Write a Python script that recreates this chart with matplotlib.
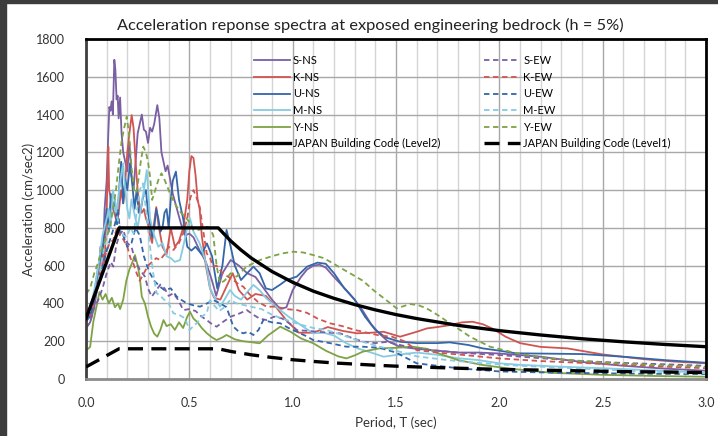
import matplotlib
matplotlib.use("Agg")
import matplotlib.pyplot as plt
from matplotlib.patches import Rectangle
from matplotlib.ticker import MultipleLocator

plt.rcParams['font.family'] = ['Lato', 'DejaVu Sans']

# ---- data (period T in sec, acceleration in cm/sec2) ----
t_s_ns = [0, 0.02, 0.04, 0.06, 0.07, 0.08, 0.09, 0.10, 0.108, 0.113, 0.118, 0.124, 0.13, 0.137, 0.142, 0.148,
          0.153, 0.158, 0.165, 0.172, 0.18, 0.19, 0.2, 0.21, 0.22, 0.23, 0.24, 0.25, 0.26, 0.27, 0.28, 0.29,
          0.30, 0.31, 0.32, 0.33, 0.345, 0.355, 0.365, 0.375, 0.385, 0.395, 0.41, 0.42, 0.44, 0.46, 0.48, 0.5,
          0.52, 0.55, 0.58, 0.61, 0.63, 0.66, 0.7, 0.74, 0.78, 0.82, 0.86, 0.9, 0.94, 0.97, 1.0, 1.04, 1.07,
          1.1, 1.13, 1.16, 1.2, 1.26, 1.3, 1.34, 1.38, 1.42, 1.46, 1.52, 1.6, 1.7, 1.8, 1.9, 2.0, 2.2, 2.4,
          2.6, 2.8, 3.0]
a_s_ns = [270, 300, 380, 520, 700, 600, 900, 1050, 1300, 1440, 1420, 1470, 1400, 1690, 1640, 1480,
          1500, 1380, 1490, 1300, 1200, 1150, 1100, 1250, 1080, 1000, 1150, 1300, 1350, 1400, 1320, 1310,
          1250, 1330, 1310, 1350, 1450, 1380, 1200, 1150, 1100, 1130, 1040, 980, 900, 820, 760, 770,
          750, 680, 620, 520, 440, 560, 630, 600, 560, 540, 480, 420, 370, 380, 470, 540, 580,
          600, 605, 590, 540, 470, 420, 360, 290, 240, 200, 170, 160, 150, 140, 140, 135, 118, 90,
          70, 55, 44]

t_k_ns = [0, 0.02, 0.04, 0.06, 0.08, 0.09, 0.1, 0.105, 0.108, 0.112, 0.116, 0.12, 0.13, 0.14, 0.15, 0.16,
          0.17, 0.18, 0.19, 0.2, 0.21, 0.221, 0.23, 0.24, 0.25, 0.26, 0.27, 0.28, 0.29, 0.3, 0.31, 0.32,
          0.33, 0.34, 0.35, 0.37, 0.39, 0.41, 0.43, 0.45, 0.47, 0.49, 0.5, 0.51, 0.52, 0.53, 0.54, 0.55,
          0.56, 0.58, 0.6, 0.62, 0.65, 0.68, 0.71, 0.74, 0.78, 0.82, 0.87, 0.92, 0.97, 1.03, 1.1, 1.17,
          1.24, 1.31, 1.38, 1.44, 1.52, 1.6, 1.65, 1.7, 1.76, 1.82, 1.87, 1.92, 1.97, 2.03, 2.1, 2.2,
          2.33, 2.5, 2.7, 2.85, 3.0]
a_k_ns = [380, 330, 420, 560, 700, 620, 900, 1100, 1230, 1000, 980, 950, 900, 870, 820, 900,
          1000, 930, 1050, 1200, 1300, 1397, 1330, 1150, 1000, 900, 880, 900, 850, 820, 760, 720,
          830, 910, 820, 700, 660, 800, 700, 730, 800, 950, 1100, 1180, 1170, 1080, 950, 900,
          760, 600, 480, 430, 420, 490, 560, 470, 420, 450, 440, 380, 310, 245, 245, 275,
          255, 242, 245, 250, 224, 250, 268, 275, 285, 300, 303, 290, 265, 224, 190, 170,
          162, 130, 105, 92, 83]

t_u_ns = [0, 0.02, 0.04, 0.06, 0.08, 0.1, 0.11, 0.12, 0.13, 0.14, 0.15, 0.16, 0.17, 0.18, 0.19, 0.2,
          0.213, 0.225, 0.235, 0.245, 0.255, 0.265, 0.275, 0.29, 0.3, 0.31, 0.32, 0.33, 0.34, 0.35, 0.36,
          0.37, 0.38, 0.39, 0.4, 0.41, 0.42, 0.435, 0.45, 0.47, 0.49, 0.51, 0.53, 0.56, 0.585, 0.61,
          0.635, 0.66, 0.68, 0.7, 0.72, 0.75, 0.78, 0.81, 0.84, 0.87, 0.9, 0.94, 0.97, 1.02, 1.07,
          1.12, 1.16, 1.2, 1.25, 1.3, 1.35, 1.4, 1.45, 1.52, 1.6, 1.7, 1.76, 1.85, 1.92, 2.0, 2.08,
          2.25, 2.4, 2.6, 2.8, 3.0]
a_u_ns = [300, 340, 450, 600, 680, 900, 780, 980, 900, 950, 820, 1000, 1150, 930, 1060, 1000,
          1142, 1020, 900, 1000, 880, 895, 960, 1000, 880, 820, 750, 800, 900, 850, 780,
          800, 880, 900, 800, 950, 1050, 1098, 950, 850, 700, 680, 700, 660, 718, 650,
          480, 600, 789, 700, 600, 524, 560, 595, 560, 480, 471, 500, 524, 542, 595,
          616, 610, 560, 480, 420, 330, 260, 220, 197, 190, 190, 194, 180, 162, 150, 136,
          134, 132, 118, 100, 86]

t_m_ns = [0, 0.02, 0.04, 0.06, 0.08, 0.1, 0.11, 0.12, 0.13, 0.14, 0.15, 0.16, 0.17, 0.18, 0.19, 0.2,
          0.21, 0.22, 0.235, 0.25, 0.265, 0.28, 0.294, 0.31, 0.33, 0.35, 0.37, 0.39, 0.41, 0.43, 0.455,
          0.47, 0.49, 0.503, 0.52, 0.55, 0.58, 0.6, 0.62, 0.648, 0.67, 0.697, 0.72, 0.75, 0.78, 0.81,
          0.84, 0.87, 0.9, 0.94, 0.98, 1.02, 1.06, 1.1, 1.15, 1.2, 1.26, 1.32, 1.38, 1.44, 1.52, 1.6,
          1.7, 1.8, 1.9, 2.0, 2.1, 2.3, 2.5, 2.7, 2.9, 3.0]
a_m_ns = [340, 380, 470, 600, 760, 850, 900, 800, 1000, 950, 860, 1000, 1080, 1142, 1000, 900,
          850, 950, 870, 800, 900, 1000, 1106, 850, 760, 700, 720, 650, 640, 620, 630,
          700, 800, 851, 780, 718, 620, 480, 436, 383, 420, 471, 440, 420, 460, 498,
          470, 430, 400, 365, 330, 300, 270, 242, 245, 230, 189, 160, 140, 118, 130, 140,
          128, 110, 100, 83, 75, 65, 57, 48, 38, 33]

t_y_ns = [0, 0.02, 0.035, 0.05, 0.065, 0.08, 0.095, 0.11, 0.125, 0.14, 0.155, 0.165, 0.18, 0.195, 0.21,
          0.225, 0.237, 0.25, 0.26, 0.27, 0.285, 0.3, 0.315, 0.33, 0.345, 0.36, 0.375, 0.39, 0.41, 0.43,
          0.45, 0.47, 0.49, 0.503, 0.52, 0.54, 0.56, 0.584, 0.61, 0.632, 0.66, 0.68, 0.72, 0.76, 0.8,
          0.84, 0.88, 0.94, 0.99, 1.04, 1.1, 1.16, 1.22, 1.26, 1.3, 1.34, 1.42, 1.5, 1.58, 1.65, 1.72,
          1.8, 1.92, 2.05, 2.25, 2.5, 2.75, 3.0]
a_y_ns = [150, 170, 300, 380, 460, 420, 450, 400, 430, 380, 400, 370, 420, 520, 580,
          620, 656, 600, 540, 436, 400, 330, 277, 240, 224, 260, 312, 280, 290, 260,
          300, 270, 330, 356, 320, 300, 270, 243, 220, 206, 220, 233, 210, 200, 195,
          189, 230, 277, 250, 215, 189, 150, 120, 109, 125, 145, 162, 165, 171, 160, 130,
          100, 74, 55, 33, 22, 16, 12]

t_s_ew = [0, 0.02, 0.04, 0.06, 0.08, 0.1, 0.12, 0.132, 0.145, 0.16, 0.18, 0.2, 0.22, 0.24, 0.26, 0.285,
          0.3, 0.318, 0.34, 0.36, 0.38, 0.4, 0.423, 0.445, 0.471, 0.5, 0.53, 0.56, 0.584, 0.61, 0.632,
          0.66, 0.7, 0.745, 0.778, 0.81, 0.84, 0.874, 0.91, 0.95, 0.99, 1.02, 1.07, 1.12, 1.18, 1.229,
          1.28, 1.342, 1.4, 1.46, 1.52, 1.6, 1.7, 1.8, 1.9, 2.0, 2.2, 2.4, 2.6, 2.8, 3.0]
a_s_ew = [270, 300, 380, 420, 480, 560, 620, 595, 700, 760, 789, 720, 700, 620, 580, 542,
          480, 436, 470, 500, 480, 440, 454, 420, 365, 370, 360, 330, 312, 290, 277,
          300, 330, 348, 365, 340, 320, 312, 330, 320, 290, 259, 255, 250, 245, 242,
          220, 197, 190, 197, 180, 160, 150, 140, 133, 127, 110, 95, 85, 78, 70]

t_k_ew = [0, 0.02, 0.04, 0.06, 0.08, 0.1, 0.115, 0.132, 0.15, 0.165, 0.18, 0.2, 0.215, 0.229, 0.245,
          0.26, 0.28, 0.3, 0.32, 0.34, 0.358, 0.38, 0.4, 0.423, 0.45, 0.47, 0.49, 0.505, 0.52, 0.535,
          0.55, 0.565, 0.584, 0.6, 0.616, 0.632, 0.66, 0.69, 0.713, 0.74, 0.761, 0.79, 0.83, 0.874,
          0.92, 0.97, 1.02, 1.07, 1.12, 1.18, 1.24, 1.3, 1.36, 1.422, 1.48, 1.54, 1.6, 1.7, 1.8, 2.0,
          2.2, 2.4, 2.6, 2.8, 3.0]
a_k_ew = [330, 340, 420, 500, 600, 680, 720, 736, 800, 760, 740, 700, 640, 612, 560,
          520, 560, 600, 620, 640, 630, 660, 700, 683, 720, 771, 850, 960, 1000, 960,
          912, 800, 665, 640, 595, 600, 560, 540, 524, 500, 489, 450, 410, 383,
          383, 370, 365, 350, 320, 295, 280, 260, 245, 230, 224, 200, 153, 140, 130, 109,
          95, 85, 75, 65, 57]

t_u_ew = [0, 0.02, 0.04, 0.06, 0.08, 0.1, 0.12, 0.14, 0.155, 0.165, 0.18, 0.2, 0.22, 0.24, 0.26, 0.28,
          0.295, 0.31, 0.33, 0.358, 0.38, 0.41, 0.439, 0.46, 0.487, 0.52, 0.552, 0.585, 0.616, 0.65,
          0.68, 0.713, 0.74, 0.761, 0.785, 0.81, 0.835, 0.858, 0.9, 0.94, 0.98, 1.02, 1.06, 1.1, 1.18,
          1.26, 1.34, 1.42, 1.5, 1.6, 1.7, 1.8, 2.0, 2.2, 2.5, 2.8, 3.0]
a_u_ew = [310, 330, 420, 520, 600, 680, 750, 820, 900, 771, 760, 700, 720, 800, 760, 650,
          600, 559, 520, 489, 470, 480, 436, 420, 401, 390, 383, 400, 418, 400,
          380, 277, 250, 242, 250, 233, 260, 312, 300, 295, 270, 250, 230, 206, 190,
          171, 171, 165, 140, 83, 70, 57, 40, 35, 30, 27, 26]

t_m_ew = [0, 0.02, 0.04, 0.06, 0.08, 0.1, 0.12, 0.14, 0.16, 0.18, 0.197, 0.215, 0.23, 0.245, 0.26,
          0.275, 0.29, 0.31, 0.325, 0.342, 0.36, 0.38, 0.4, 0.423, 0.45, 0.48, 0.5, 0.52, 0.54, 0.56,
          0.584, 0.6, 0.62, 0.645, 0.67, 0.697, 0.73, 0.77, 0.81, 0.85, 0.9, 0.971, 1.03, 1.1, 1.16,
          1.22, 1.3, 1.36, 1.42, 1.5, 1.6, 1.75, 1.9, 2.1, 2.4, 2.7, 3.0]
a_m_ew = [350, 360, 450, 520, 650, 760, 850, 900, 820, 760, 753, 800, 771, 880, 1000,
          1036, 900, 700, 560, 454, 440, 418, 400, 348, 340, 320, 259, 280, 300, 330,
          348, 418, 390, 360, 380, 418, 400, 390, 380, 370, 340, 312, 290, 270, 260,
          240, 210, 190, 171, 150, 120, 100, 85, 70, 55, 40, 30]

t_y_ew = [0, 0.02, 0.04, 0.06, 0.08, 0.1, 0.115, 0.13, 0.145, 0.16, 0.173, 0.185, 0.197, 0.208, 0.22,
          0.232, 0.243, 0.253, 0.265, 0.277, 0.29, 0.3, 0.31, 0.32, 0.335, 0.35, 0.365, 0.382, 0.4,
          0.42, 0.439, 0.46, 0.48, 0.5, 0.52, 0.545, 0.565, 0.584, 0.6, 0.616, 0.632, 0.648, 0.67, 0.7,
          0.729, 0.777, 0.842, 0.9, 0.95, 1.003, 1.05, 1.1, 1.15, 1.196, 1.245, 1.293, 1.34, 1.39,
          1.45, 1.503, 1.535, 1.568, 1.61, 1.648, 1.7, 1.761, 1.81, 1.858, 1.955, 2.084, 2.245, 2.4,
          2.568, 2.8, 3.0]
a_y_ew = [450, 480, 560, 620, 700, 750, 800, 900, 1000, 1150, 1265, 1330, 1389, 1300, 1124,
          1000, 983, 1050, 1150, 1230, 1200, 1150, 1071, 948, 1000, 1053, 1089, 1050, 1000,
          950, 912, 880, 860, 830, 790, 789, 800, 806, 800, 760, 600, 507, 520, 560,
          542, 595, 630, 650, 665, 674, 670, 656, 640, 612, 580, 550, 520, 471,
          420, 374, 385, 397, 390, 374, 340, 295, 260, 224, 171, 136, 109, 95,
          83, 72, 65]

# Japan building code spectra
t_code = [0, 0.16, 0.64, 0.7, 0.75, 0.8, 0.9, 1.0, 1.1, 1.2, 1.3, 1.4, 1.5, 1.6, 1.8, 2.0, 2.2, 2.4,
          2.6, 2.8, 3.0]
a_level2 = [320, 800, 800, 731, 683, 640, 569, 512, 465, 427, 394, 366, 341, 320, 284, 256, 233, 213,
            197, 183, 171]
a_level1 = [64, 160, 160, 146, 137, 128, 114, 102, 93, 85, 79, 73, 68, 64, 57, 51, 47, 43,
            39, 37, 34]

purple = '#7a5fa3'
red = '#cf5552'
blue = '#3466a8'
cyan = '#86cbe2'
green = '#7ea344'

fig = plt.figure(figsize=(7.18, 4.36), dpi=100)
fig.patches.append(Rectangle((0, 0), 6 / 718, 1, transform=fig.transFigure,
                             color='#3c3c3c', zorder=0))
fig.patches.append(Rectangle((0, 1 - 3 / 436), 1, 3 / 436, transform=fig.transFigure,
                             color='#3c3c3c', zorder=0))

ax = fig.add_axes([86 / 718, 57 / 436, 620 / 718, 340 / 436])

lw = 1.3
ax.plot(t_s_ns, a_s_ns, color=purple, lw=lw, label='S-NS')
ax.plot(t_k_ns, a_k_ns, color=red, lw=lw, label='K-NS')
ax.plot(t_u_ns, a_u_ns, color=blue, lw=lw, label='U-NS')
ax.plot(t_m_ns, a_m_ns, color=cyan, lw=lw, label='M-NS')
ax.plot(t_y_ns, a_y_ns, color=green, lw=lw, label='Y-NS')
ax.plot(t_code, a_level2, color='black', lw=2.4, label='JAPAN Building Code (Level2)', zorder=5)
ax.plot(t_s_ew, a_s_ew, color=purple, lw=lw, dashes=(3, 2), label='S-EW')
ax.plot(t_k_ew, a_k_ew, color=red, lw=lw, dashes=(3, 2), label='K-EW')
ax.plot(t_u_ew, a_u_ew, color=blue, lw=lw, dashes=(3, 2), label='U-EW')
ax.plot(t_m_ew, a_m_ew, color=cyan, lw=lw, dashes=(3, 2), label='M-EW')
ax.plot(t_y_ew, a_y_ew, color=green, lw=lw, dashes=(3, 2), label='Y-EW')
ax.plot(t_code, a_level1, color='black', lw=2.4, dashes=(4.5, 2.5),
        label='JAPAN Building Code (Level1)', zorder=5)

ax.set_xlim(0, 3.0)
ax.set_ylim(0, 1800)
ax.xaxis.set_major_locator(MultipleLocator(0.5))
ax.xaxis.set_minor_locator(MultipleLocator(0.1))
ax.yaxis.set_major_locator(MultipleLocator(200))
ax.xaxis.set_major_formatter(plt.FormatStrFormatter('%.1f'))
ax.grid(which='minor', axis='x', color='#d4d4d4', lw=1.0)
ax.grid(which='major', axis='x', color='#a8a8a8', lw=1.0)
ax.grid(which='major', axis='y', color='#a8a8a8', lw=1.0)
ax.set_axisbelow(True)
ax.tick_params(which='both', length=0, labelsize=9, colors='#333333')
ax.tick_params(axis='y', pad=15)
ax.tick_params(axis='x', pad=13)
for side in ['top', 'right']:
    ax.spines[side].set_color('black')
    ax.spines[side].set_linewidth(2.0)
ax.spines['left'].set_color('#404040')
ax.spines['left'].set_linewidth(2.0)
ax.spines['bottom'].set_color('#8c8c8c')
ax.spines['bottom'].set_linewidth(2.0)

ax.set_xlabel('Period, T (sec)', fontsize=9.5, color='#333333', labelpad=5)
ax.set_ylabel('Acceleration (cm/sec2)', fontsize=9.5, color='#333333', labelpad=1)
fig.text(370 / 718, 1 - 25 / 436, 'Acceleration reponse spectra at exposed engineering bedrock (h = 5%)',
         ha='center', va='center', fontsize=11.8, color='#222222')

ax.legend(ncol=2, frameon=False, loc='upper left', bbox_to_anchor=(0.263, 0.965),
          fontsize=8, handlelength=3.3, handletextpad=0.25, columnspacing=3.9,
          labelspacing=0.5, borderaxespad=0)

fig.savefig('out.png', dpi=100)
